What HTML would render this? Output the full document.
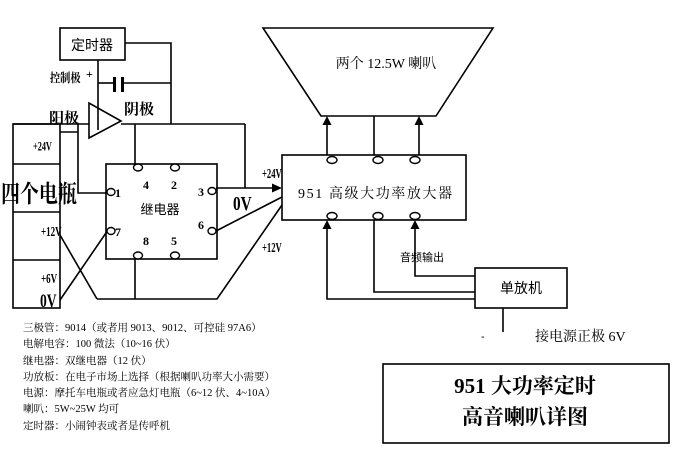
<!DOCTYPE html>
<html><head><meta charset="utf-8"><style>
html,body{margin:0;padding:0;background:#fff;}
svg{display:block;}
.s{font-family:"Liberation Serif","Noto Serif CJK SC",serif;}
.c{font-family:"Liberation Sans","Noto Sans CJK SC",sans-serif;}
</style></head><body>
<svg width="700" height="468" viewBox="0 0 700 468" xmlns="http://www.w3.org/2000/svg">
<g stroke="#000" stroke-width="1.6" fill="none">
<!-- timer -->
<rect x="60" y="28" width="65" height="32"/>
<polyline points="125,43 171,43 171,124"/>
<line x1="98" y1="83" x2="114" y2="83"/>
<line x1="123" y1="83" x2="171" y2="83"/>
<line x1="98" y1="60" x2="98" y2="130"/>
<!-- transistor triangle -->
<polygon points="89,103 89,138 121,121"/>
<line x1="121" y1="124" x2="245" y2="124"/>
<line x1="13" y1="124" x2="89" y2="124"/>
<line x1="245" y1="124" x2="245" y2="188"/>
<line x1="135" y1="124" x2="135" y2="165"/>
<!-- battery -->
<rect x="13" y="124" width="47" height="184"/>
<line x1="13" y1="164" x2="60" y2="164"/>
<line x1="13" y1="212" x2="60" y2="212"/>
<line x1="13" y1="260" x2="60" y2="260"/>
<line x1="60" y1="132" x2="78" y2="132"/>
<polyline points="78,124 78,193 106,193"/>
<!-- relay -->
<rect x="106" y="164" width="111" height="95"/>
<line x1="60" y1="235" x2="97" y2="299"/>
<line x1="60" y1="300" x2="108" y2="230"/>
<line x1="135" y1="259" x2="135" y2="299"/>
<polyline points="97,299 217,299 282,205"/>
<line x1="216" y1="231" x2="282" y2="197"/>
<line x1="216" y1="188" x2="274" y2="188"/>
<!-- 951 box -->
<rect x="282" y="155" width="184" height="65"/>
<!-- speaker -->
<polygon points="263,28 493,28 436,116 321,116"/>
<line x1="327" y1="155" x2="327" y2="124"/>
<line x1="374" y1="155" x2="374" y2="116"/>
<line x1="419" y1="155" x2="419" y2="124"/>
<!-- bottom connections -->
<polyline points="327,228 327,299 475,299"/>
<polyline points="374,220 374,292 475,292"/>
<polyline points="415,228 415,276 475,276"/>
<rect x="475" y="268" width="92" height="40"/>
<line x1="503" y1="308" x2="503" y2="332"/>
<!-- title box -->
<rect x="383" y="364" width="286" height="79"/>
</g>
<!-- capacitor plates -->
<rect x="113" y="77" width="3" height="15" fill="#000"/>
<rect x="121" y="77" width="3" height="15" fill="#000"/>
<!-- pin circles -->
<g stroke="#000" stroke-width="1.4" fill="#fff">
<ellipse cx="138" cy="167.5" rx="4.5" ry="3.5"/>
<ellipse cx="175" cy="167.5" rx="4.5" ry="3.5"/>
<ellipse cx="111" cy="192" rx="4" ry="3.5"/>
<ellipse cx="111" cy="231" rx="4" ry="3.5"/>
<ellipse cx="212" cy="191" rx="4" ry="3.5"/>
<ellipse cx="212" cy="231" rx="4" ry="3.5"/>
<ellipse cx="138" cy="255.5" rx="4.5" ry="3.5"/>
<ellipse cx="175" cy="255.5" rx="4.5" ry="3.5"/>
<ellipse cx="332" cy="160" rx="5" ry="3.5"/>
<ellipse cx="378" cy="160" rx="5" ry="3.5"/>
<ellipse cx="415" cy="160" rx="5" ry="3.5"/>
<ellipse cx="332" cy="216" rx="5" ry="3.5"/>
<ellipse cx="378" cy="216" rx="5" ry="3.5"/>
<ellipse cx="415" cy="216" rx="5" ry="3.5"/>
</g>
<!-- arrowheads -->
<g fill="#000">
<polygon points="282,188 272,183.5 272,192.5"/>
<polygon points="327,116 322.5,125 331.5,125"/>
<polygon points="419,116 414.5,125 423.5,125"/>
<polygon points="327,220 322.5,229 331.5,229"/>
<polygon points="415,220 410.5,229 419.5,229"/>
</g>
<!-- texts -->
<text x="92" y="50" class="c" font-size="14" text-anchor="middle">定时器</text>
<text x="50" y="82" class="s" font-size="12" font-weight="bold" transform="translate(50,0) scale(0.85,1) translate(-50,0)">控制极</text>
<text x="86" y="78" class="s" font-size="12" font-weight="bold">+</text>
<text x="124" y="114" class="s" font-size="15" font-weight="bold">阴极</text>
<text x="49" y="123" class="s" font-size="15" font-weight="bold">阳极</text>
<text x="33" y="137" class="s" font-size="11" font-weight="bold" transform="translate(33,0) scale(0.75,1.1) translate(-33,0)">+24V</text>
<text x="1" y="202" class="s" font-size="20" font-weight="bold" transform="translate(0,202) scale(0.95,1.2) translate(0,-202)">四个电瓶</text>
<text x="41" y="236" class="s" font-size="12" font-weight="bold" transform="translate(41,236) scale(0.75,1.1) translate(-41,-236)">+12V</text>
<text x="41" y="283" class="s" font-size="12" font-weight="bold" transform="translate(41,283) scale(0.75,1.15) translate(-41,-283)">+6V</text>
<text x="40" y="307" class="s" font-size="16" font-weight="bold" transform="translate(40,307) scale(0.85,1.2) translate(-40,-307)">0V</text>
<g class="s" font-size="12" font-weight="bold">
<text x="143" y="189">4</text>
<text x="171" y="189">2</text>
<text x="115" y="197">1</text>
<text x="198" y="196">3</text>
<text x="198" y="229">6</text>
<text x="115" y="236">7</text>
<text x="143" y="245">8</text>
<text x="171" y="245">5</text>
</g>
<text x="160" y="214" class="c" font-size="13" text-anchor="middle">继电器</text>
<text x="233" y="210" class="s" font-size="17" font-weight="bold" transform="translate(233,210) scale(0.9,1.15) translate(-233,-210)">0V</text>
<text x="262" y="178" class="s" font-size="12" font-weight="bold" transform="translate(262,178) scale(0.72,1.15) translate(-262,-178)">+24V</text>
<text x="262" y="252" class="s" font-size="12" font-weight="bold" transform="translate(262,252) scale(0.72,1.15) translate(-262,-252)">+12V</text>
<text x="386" y="68" class="s" font-size="14" text-anchor="middle">两个 12.5W 喇叭</text>
<text x="298" y="198" class="s" font-size="14" letter-spacing="1.6">951  高级大功率放大器</text>
<text x="400" y="261" class="c" font-size="11">音频输出</text>
<text x="521" y="293" class="c" font-size="14" text-anchor="middle">单放机</text>
<text x="481" y="340" class="c" font-size="11">-</text>
<text x="535" y="341" class="s" font-size="14">接电源正极 6V</text>
<text x="525" y="393" class="s" font-size="21" font-weight="bold" text-anchor="middle">951 大功率定时</text>
<text x="525" y="424" class="s" font-size="21" font-weight="bold" text-anchor="middle">高音喇叭详图</text>
<g class="s" font-size="10.5">
<text x="23" y="331">三极管：9014（或者用 9013、9012、可控硅 97A6）</text>
<text x="23" y="347">电解电容：100 微法（10~16 伏）</text>
<text x="23" y="364">继电器：双继电器（12 伏）</text>
<text x="23" y="380">功放板：在电子市场上选择（根据喇叭功率大小需要）</text>
<text x="23" y="396">电源：摩托车电瓶或者应急灯电瓶（6~12 伏、4~10A）</text>
<text x="23" y="412">喇叭：5W~25W 均可</text>
<text x="23" y="429">定时器：小闹钟表或者是传呼机</text>
</g>
</svg>
</body></html>
